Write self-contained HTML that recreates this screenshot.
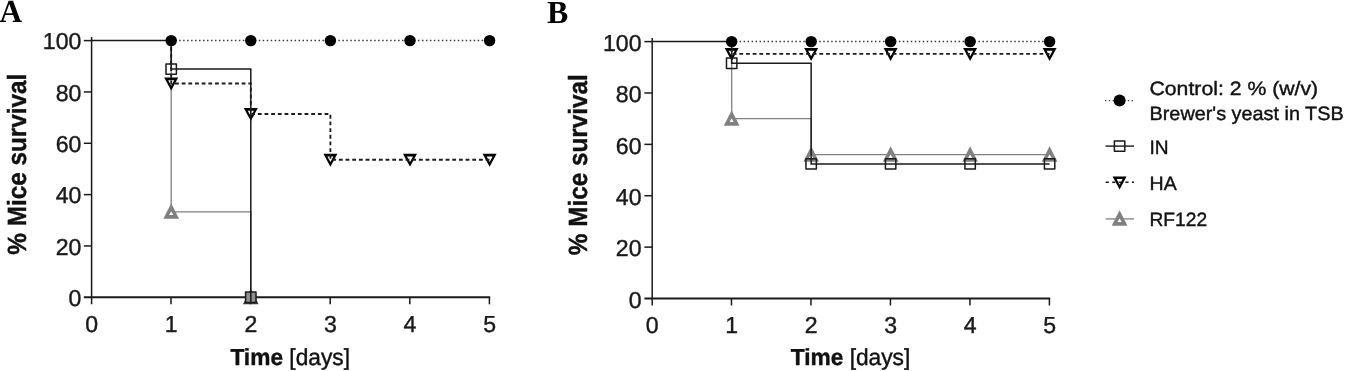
<!DOCTYPE html>
<html lang="en">
<head>
<meta charset="utf-8">
<title>Mice survival</title>
<style>
html,body{margin:0;padding:0;background:#fff;}
body{width:1345px;height:371px;overflow:hidden;}
svg{display:block;position:absolute;left:0;top:0;}
text{text-rendering:geometricPrecision;}
</style>
</head>
<body>
<svg width="1345" height="371" viewBox="0 0 1345 371">
<rect width="1345" height="371" fill="#fff"/>
<g id="chartA">
<text x="-0.5" y="21.7" font-family='"Liberation Serif", serif' font-weight="bold" font-size="32.2" textLength="22.6" lengthAdjust="spacingAndGlyphs" fill="#000">A</text>
<text transform="translate(26.4,254.7) rotate(-90)" font-family='"Liberation Sans", sans-serif' font-weight="bold" font-size="26.3" textLength="181" lengthAdjust="spacingAndGlyphs" fill="#111" stroke="#111" stroke-width="0.4">% Mice survival</text>
<text x="81.4" y="306" text-anchor="end" font-family='"Liberation Sans", sans-serif' font-size="23.1" fill="#1a1a1a" stroke="#1a1a1a" stroke-width="0.4">0</text>
<text x="81.4" y="254.66" text-anchor="end" font-family='"Liberation Sans", sans-serif' font-size="23.1" fill="#1a1a1a" stroke="#1a1a1a" stroke-width="0.4">20</text>
<text x="81.4" y="203.32" text-anchor="end" font-family='"Liberation Sans", sans-serif' font-size="23.1" fill="#1a1a1a" stroke="#1a1a1a" stroke-width="0.4">40</text>
<text x="81.4" y="151.98" text-anchor="end" font-family='"Liberation Sans", sans-serif' font-size="23.1" fill="#1a1a1a" stroke="#1a1a1a" stroke-width="0.4">60</text>
<text x="81.4" y="100.64" text-anchor="end" font-family='"Liberation Sans", sans-serif' font-size="23.1" fill="#1a1a1a" stroke="#1a1a1a" stroke-width="0.4">80</text>
<text x="81.4" y="49.3" text-anchor="end" font-family='"Liberation Sans", sans-serif' font-size="23.1" fill="#1a1a1a" stroke="#1a1a1a" stroke-width="0.4">100</text>
<text x="91.6" y="332.1" text-anchor="middle" font-family='"Liberation Sans", sans-serif' font-size="23.1" fill="#1a1a1a" stroke="#1a1a1a" stroke-width="0.4">0</text>
<text x="171.2" y="332.1" text-anchor="middle" font-family='"Liberation Sans", sans-serif' font-size="23.1" fill="#1a1a1a" stroke="#1a1a1a" stroke-width="0.4">1</text>
<text x="250.8" y="332.1" text-anchor="middle" font-family='"Liberation Sans", sans-serif' font-size="23.1" fill="#1a1a1a" stroke="#1a1a1a" stroke-width="0.4">2</text>
<text x="330.4" y="332.1" text-anchor="middle" font-family='"Liberation Sans", sans-serif' font-size="23.1" fill="#1a1a1a" stroke="#1a1a1a" stroke-width="0.4">3</text>
<text x="410" y="332.1" text-anchor="middle" font-family='"Liberation Sans", sans-serif' font-size="23.1" fill="#1a1a1a" stroke="#1a1a1a" stroke-width="0.4">4</text>
<text x="489.6" y="332.1" text-anchor="middle" font-family='"Liberation Sans", sans-serif' font-size="23.1" fill="#1a1a1a" stroke="#1a1a1a" stroke-width="0.4">5</text>
<text x="230.4" y="364.5" font-family='"Liberation Sans", sans-serif' font-size="23.1" textLength="119.6" lengthAdjust="spacingAndGlyphs" fill="#111" stroke="#111" stroke-width="0.4"><tspan font-weight="bold">Time</tspan> [days]</text>
<path d="M171.2,40.6 L489.6,40.6" fill="none" stroke="#383838" stroke-width="1.5" stroke-dasharray="1.5 2.48"/>
<path d="M171.2,40.6 L171.2,211.82 L250.8,211.82 L250.8,297.3" fill="none" stroke="#808080" stroke-width="1.3"/>
<polygon points="171.2,203.32 179.05,218.82 163.35,218.82" fill="#808080"/><polygon points="171.2,211.62 173.3,215.12 169.1,215.12" fill="#fff"/>
<polygon points="250.8,288.8 258.65,304.3 242.95,304.3" fill="#3c3c3c"/><polygon points="250.8,297.1 252.9,300.6 248.7,300.6" fill="#fff"/>
<polygon points="164.2,77.57 178.2,77.57 171.2,90.47" fill="#000"/><polygon points="168.2,80.17 174.2,80.17 171.2,85.77" fill="#fff"/>
<polygon points="243.8,108.12 257.8,108.12 250.8,121.02" fill="#000"/><polygon points="247.8,110.72 253.8,110.72 250.8,116.32" fill="#fff"/>
<polygon points="323.4,153.81 337.4,153.81 330.4,166.71" fill="#000"/><polygon points="327.4,156.41 333.4,156.41 330.4,162.01" fill="#fff"/>
<polygon points="403,153.81 417,153.81 410,166.71" fill="#000"/><polygon points="407,156.41 413,156.41 410,162.01" fill="#fff"/>
<polygon points="482.6,153.81 496.6,153.81 489.6,166.71" fill="#000"/><polygon points="486.6,156.41 492.6,156.41 489.6,162.01" fill="#fff"/>
<path d="M171.2,40.6 L171.2,83.47 L250.8,83.47 L250.8,114.02 L330.4,114.02 L330.4,159.71 L489.6,159.71" fill="none" stroke="#1c1c1c" stroke-width="1.85" stroke-dasharray="3.8 2.87"/>
<path d="M91.6,37.1 V304.3" stroke="#1a1a1a" stroke-width="1.5" fill="none"/>
<path d="M83.8,297.3 H490.2" stroke="#1a1a1a" stroke-width="1.9" fill="none"/>
<path d="M83.8,245.96 H91.6" stroke="#1a1a1a" stroke-width="1.5" fill="none"/>
<path d="M83.8,194.62 H91.6" stroke="#1a1a1a" stroke-width="1.5" fill="none"/>
<path d="M83.8,143.28 H91.6" stroke="#1a1a1a" stroke-width="1.5" fill="none"/>
<path d="M83.8,91.94 H91.6" stroke="#1a1a1a" stroke-width="1.5" fill="none"/>
<path d="M83.8,40.6 H91.6" stroke="#1a1a1a" stroke-width="1.5" fill="none"/>
<path d="M171,297.3 V304.3" stroke="#1a1a1a" stroke-width="1.5" fill="none"/>
<path d="M250.6,297.3 V304.3" stroke="#1a1a1a" stroke-width="1.5" fill="none"/>
<path d="M330.2,297.3 V304.3" stroke="#1a1a1a" stroke-width="1.5" fill="none"/>
<path d="M409.8,297.3 V304.3" stroke="#1a1a1a" stroke-width="1.5" fill="none"/>
<path d="M489.4,297.3 V304.3" stroke="#1a1a1a" stroke-width="1.5" fill="none"/>
<rect x="245.6" y="292.1" width="10.4" height="10.4" fill="#8e8e8e" stroke="#1a1a1a" stroke-width="1.5" stroke-linejoin="round"/>
<path d="M250.8,297.3 V302.5" stroke="#1a1a1a" stroke-width="1.5" fill="none"/>
<path d="M91.6,40.6 L171.2,40.6 L171.2,69.09 L250.8,69.09 L250.8,297.3" fill="none" stroke="#1a1a1a" stroke-width="1.5"/>
<rect x="166" y="63.89" width="10.4" height="10.4" fill="none" stroke="#1a1a1a" stroke-width="1.5" stroke-linejoin="round"/>
<circle cx="171.2" cy="40.6" r="5.7" fill="#000"/>
<circle cx="250.8" cy="40.6" r="5.7" fill="#000"/>
<circle cx="330.4" cy="40.6" r="5.7" fill="#000"/>
<circle cx="410" cy="40.6" r="5.7" fill="#000"/>
<circle cx="489.6" cy="40.6" r="5.7" fill="#000"/>
</g>
<g id="chartB">
<text x="547" y="23" font-family='"Liberation Serif", serif' font-weight="bold" font-size="32.2" textLength="21.3" lengthAdjust="spacingAndGlyphs" fill="#000">B</text>
<text transform="translate(586.7,255.2) rotate(-90)" font-family='"Liberation Sans", sans-serif' font-weight="bold" font-size="26.3" textLength="181" lengthAdjust="spacingAndGlyphs" fill="#111" stroke="#111" stroke-width="0.4">% Mice survival</text>
<text x="641.5" y="307.8" text-anchor="end" font-family='"Liberation Sans", sans-serif' font-size="23.1" fill="#1a1a1a" stroke="#1a1a1a" stroke-width="0.4">0</text>
<text x="641.5" y="256.42" text-anchor="end" font-family='"Liberation Sans", sans-serif' font-size="23.1" fill="#1a1a1a" stroke="#1a1a1a" stroke-width="0.4">20</text>
<text x="641.5" y="205.04" text-anchor="end" font-family='"Liberation Sans", sans-serif' font-size="23.1" fill="#1a1a1a" stroke="#1a1a1a" stroke-width="0.4">40</text>
<text x="641.5" y="153.66" text-anchor="end" font-family='"Liberation Sans", sans-serif' font-size="23.1" fill="#1a1a1a" stroke="#1a1a1a" stroke-width="0.4">60</text>
<text x="641.5" y="102.28" text-anchor="end" font-family='"Liberation Sans", sans-serif' font-size="23.1" fill="#1a1a1a" stroke="#1a1a1a" stroke-width="0.4">80</text>
<text x="641.5" y="50.9" text-anchor="end" font-family='"Liberation Sans", sans-serif' font-size="23.1" fill="#1a1a1a" stroke="#1a1a1a" stroke-width="0.4">100</text>
<text x="652.2" y="333.3" text-anchor="middle" font-family='"Liberation Sans", sans-serif' font-size="23.1" fill="#1a1a1a" stroke="#1a1a1a" stroke-width="0.4">0</text>
<text x="731.68" y="333.3" text-anchor="middle" font-family='"Liberation Sans", sans-serif' font-size="23.1" fill="#1a1a1a" stroke="#1a1a1a" stroke-width="0.4">1</text>
<text x="811.16" y="333.3" text-anchor="middle" font-family='"Liberation Sans", sans-serif' font-size="23.1" fill="#1a1a1a" stroke="#1a1a1a" stroke-width="0.4">2</text>
<text x="890.64" y="333.3" text-anchor="middle" font-family='"Liberation Sans", sans-serif' font-size="23.1" fill="#1a1a1a" stroke="#1a1a1a" stroke-width="0.4">3</text>
<text x="970.12" y="333.3" text-anchor="middle" font-family='"Liberation Sans", sans-serif' font-size="23.1" fill="#1a1a1a" stroke="#1a1a1a" stroke-width="0.4">4</text>
<text x="1049.6" y="333.3" text-anchor="middle" font-family='"Liberation Sans", sans-serif' font-size="23.1" fill="#1a1a1a" stroke="#1a1a1a" stroke-width="0.4">5</text>
<text x="790.7" y="365.1" font-family='"Liberation Sans", sans-serif' font-size="23.1" textLength="119.6" lengthAdjust="spacingAndGlyphs" fill="#111" stroke="#111" stroke-width="0.4"><tspan font-weight="bold">Time</tspan> [days]</text>
<path d="M731.68,41.6 L1049.6,41.6" fill="none" stroke="#383838" stroke-width="1.5" stroke-dasharray="1.5 2.48"/>
<path d="M731.68,41.6 L731.68,118.67 L811.16,118.67 L811.16,154.64 L1049.6,154.64" fill="none" stroke="#808080" stroke-width="1.3"/>
<polygon points="731.68,110.17 739.53,125.67 723.83,125.67" fill="#808080"/><polygon points="731.68,118.47 733.78,121.97 729.58,121.97" fill="#fff"/>
<polygon points="811.16,146.14 819.01,161.64 803.31,161.64" fill="#808080"/><polygon points="811.16,154.44 813.26,157.94 809.06,157.94" fill="#fff"/>
<polygon points="890.64,146.14 898.49,161.64 882.79,161.64" fill="#808080"/><polygon points="890.64,154.44 892.74,157.94 888.54,157.94" fill="#fff"/>
<polygon points="970.12,146.14 977.97,161.64 962.27,161.64" fill="#808080"/><polygon points="970.12,154.44 972.22,157.94 968.02,157.94" fill="#fff"/>
<polygon points="1049.6,146.14 1057.45,161.64 1041.75,161.64" fill="#808080"/><polygon points="1049.6,154.44 1051.7,157.94 1047.5,157.94" fill="#fff"/>
<polygon points="724.68,48.03 738.68,48.03 731.68,60.93" fill="#000"/><polygon points="728.68,50.63 734.68,50.63 731.68,56.23" fill="#fff"/>
<polygon points="804.16,48.03 818.16,48.03 811.16,60.93" fill="#000"/><polygon points="808.16,50.63 814.16,50.63 811.16,56.23" fill="#fff"/>
<polygon points="883.64,48.03 897.64,48.03 890.64,60.93" fill="#000"/><polygon points="887.64,50.63 893.64,50.63 890.64,56.23" fill="#fff"/>
<polygon points="963.12,48.03 977.12,48.03 970.12,60.93" fill="#000"/><polygon points="967.12,50.63 973.12,50.63 970.12,56.23" fill="#fff"/>
<polygon points="1042.6,48.03 1056.6,48.03 1049.6,60.93" fill="#000"/><polygon points="1046.6,50.63 1052.6,50.63 1049.6,56.23" fill="#fff"/>
<path d="M731.68,41.6 L731.68,53.93 L1049.6,53.93" fill="none" stroke="#1c1c1c" stroke-width="1.85" stroke-dasharray="3.8 2.87"/>
<path d="M652.2,38.1 V305.5" stroke="#1a1a1a" stroke-width="1.5" fill="none"/>
<path d="M644.4,298.5 H1050.2" stroke="#1a1a1a" stroke-width="1.9" fill="none"/>
<path d="M644.4,247.12 H652.2" stroke="#1a1a1a" stroke-width="1.5" fill="none"/>
<path d="M644.4,195.74 H652.2" stroke="#1a1a1a" stroke-width="1.5" fill="none"/>
<path d="M644.4,144.36 H652.2" stroke="#1a1a1a" stroke-width="1.5" fill="none"/>
<path d="M644.4,92.98 H652.2" stroke="#1a1a1a" stroke-width="1.5" fill="none"/>
<path d="M644.4,41.6 H652.2" stroke="#1a1a1a" stroke-width="1.5" fill="none"/>
<path d="M731.48,298.5 V305.5" stroke="#1a1a1a" stroke-width="1.5" fill="none"/>
<path d="M810.96,298.5 V305.5" stroke="#1a1a1a" stroke-width="1.5" fill="none"/>
<path d="M890.44,298.5 V305.5" stroke="#1a1a1a" stroke-width="1.5" fill="none"/>
<path d="M969.92,298.5 V305.5" stroke="#1a1a1a" stroke-width="1.5" fill="none"/>
<path d="M1049.4,298.5 V305.5" stroke="#1a1a1a" stroke-width="1.5" fill="none"/>
<path d="M652.2,41.6 L731.68,41.6 L731.68,63.18 L811.16,63.18 L811.16,163.88 L1049.6,163.88" fill="none" stroke="#1a1a1a" stroke-width="1.5"/>
<rect x="726.48" y="57.98" width="10.4" height="10.4" fill="none" stroke="#1a1a1a" stroke-width="1.5" stroke-linejoin="round"/>
<rect x="805.96" y="158.68" width="10.4" height="10.4" fill="none" stroke="#1a1a1a" stroke-width="1.5" stroke-linejoin="round"/>
<rect x="885.44" y="158.68" width="10.4" height="10.4" fill="none" stroke="#1a1a1a" stroke-width="1.5" stroke-linejoin="round"/>
<rect x="964.92" y="158.68" width="10.4" height="10.4" fill="none" stroke="#1a1a1a" stroke-width="1.5" stroke-linejoin="round"/>
<rect x="1044.4" y="158.68" width="10.4" height="10.4" fill="none" stroke="#1a1a1a" stroke-width="1.5" stroke-linejoin="round"/>
<circle cx="731.68" cy="41.6" r="5.7" fill="#000"/>
<circle cx="811.16" cy="41.6" r="5.7" fill="#000"/>
<circle cx="890.64" cy="41.6" r="5.7" fill="#000"/>
<circle cx="970.12" cy="41.6" r="5.7" fill="#000"/>
<circle cx="1049.6" cy="41.6" r="5.7" fill="#000"/>
</g>
<g id="legend">
<path d="M1105.0,100.6 H1134" stroke="#444" stroke-width="1.3" stroke-dasharray="1.4 2.4" fill="none"/>
<circle cx="1119.6" cy="100.6" r="6" fill="#000"/>
<text x="1149.5" y="95" font-family='"Liberation Sans", sans-serif' font-size="19.3" textLength="168.6" lengthAdjust="spacingAndGlyphs" fill="#111" stroke="#111" stroke-width="0.4">Control: 2 % (w/v)</text>
<text x="1149.5" y="120.4" font-family='"Liberation Sans", sans-serif' font-size="19.3" textLength="194.2" lengthAdjust="spacingAndGlyphs" fill="#111" stroke="#111" stroke-width="0.4">Brewer's yeast in TSB</text>
<path d="M1105.6,146.1 H1134" stroke="#1a1a1a" stroke-width="1.4" fill="none"/>
<rect x="1114.4" y="140.9" width="10.4" height="10.4" fill="none" stroke="#1a1a1a" stroke-width="1.5" stroke-linejoin="round"/>
<text x="1149.5" y="153.6" font-family='"Liberation Sans", sans-serif' font-size="19.3" textLength="19.1" lengthAdjust="spacingAndGlyphs" fill="#111" stroke="#111" stroke-width="0.4">IN</text>
<polygon points="1112.6,176.5 1126.6,176.5 1119.6,189.4" fill="#000"/><polygon points="1116.6,179.1 1122.6,179.1 1119.6,184.7" fill="#fff"/>
<path d="M1105.6,182.2 H1134" stroke="#1a1a1a" stroke-width="1.4" stroke-dasharray="3.2 3.4" fill="none"/>
<text x="1149.5" y="189.6" font-family='"Liberation Sans", sans-serif' font-size="19.3" textLength="27.2" lengthAdjust="spacingAndGlyphs" fill="#111" stroke="#111" stroke-width="0.4">HA</text>
<path d="M1105.6,218.9 H1134" stroke="#808080" stroke-width="1.3" fill="none"/>
<polygon points="1119.6,210.3 1127.45,225.8 1111.75,225.8" fill="#808080"/><polygon points="1119.6,218.6 1121.7,222.1 1117.5,222.1" fill="#fff"/>
<text x="1149.5" y="226.3" font-family='"Liberation Sans", sans-serif' font-size="19.3" textLength="57.6" lengthAdjust="spacingAndGlyphs" fill="#111" stroke="#111" stroke-width="0.4">RF122</text>
</g>
</svg>
</body>
</html>
